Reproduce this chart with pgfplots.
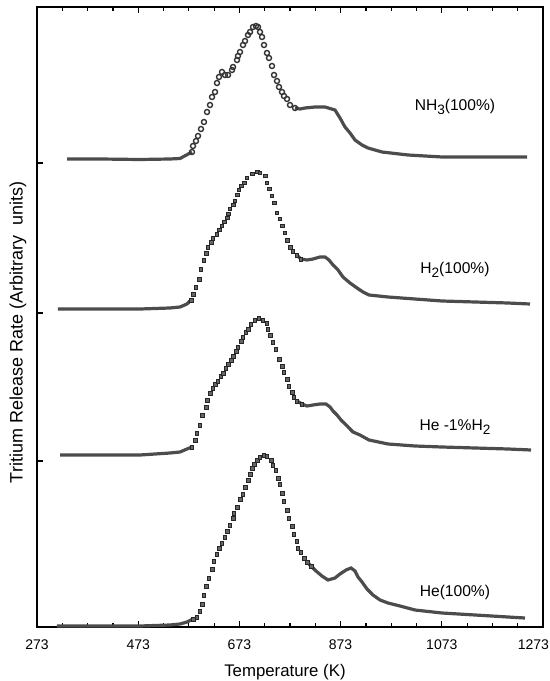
\documentclass[border=0pt]{standalone}
\usepackage{fontspec}
\setmainfont{Liberation Sans}
\usepackage{pgfplots}
\usepackage{pgfplotstable}
\pgfplotsset{compat=1.18}

% temperature (K) vs release rate (arbitrary, curves offset)
\pgfplotstableread{
T R
332.3 468
397.5 468
476.6 467.5
535.8 468
555.6 468.5
579.3 475
581.3 481
587.2 486
591.2 491
597.1 498
603.0 505
609.0 515
614.9 522
618.9 530
624.8 535
628.7 544
632.7 550
638.6 555
644.5 552
650.5 552
658.4 557
660.4 560
668.3 567
670.2 571
674.2 575
680.1 582
684.1 586
690.0 592
694.0 595
699.9 600
705.8 601
709.8 600
713.7 595
717.7 590
721.6 582
727.5 574
731.5 569
737.4 561
741.4 552
747.3 546
751.3 540
757.2 535
761.1 531
767.1 528
773.0 522
782.9 519
792.8 518
802.6 519
822.4 520
842.2 520
861.9 517
871.8 509
881.7 500
891.6 494
901.5 487
915.3 482
927.2 479
954.8 475
1006.2 472
1073.4 470
1138.6 470
1203.8 470
1241.4 470
}\nhthree

\pgfplotstableread{
T R
314.5 318
397.5 318
476.6 318
535.8 319
555.6 320
569.4 323
577.4 327
581.3 333
587.2 340
593.2 348
597.1 358
603.0 367
607.0 374
610.9 380
616.9 385
620.8 389
628.7 393
632.7 397
638.6 401
642.6 405
648.5 409
650.5 413
654.4 418
660.4 422
664.3 426
668.3 432
672.2 437
676.2 441
682.1 444
688.0 449
697.9 453
707.8 455
713.7 454
723.6 451
727.5 444
731.5 438
737.4 431
741.4 424
747.3 414
753.2 408
757.2 401
763.1 394
767.1 387
773.0 380
778.9 376
786.8 372
794.7 368
806.6 367
818.5 368
832.3 370
842.2 370
850.1 367
858.0 362
867.9 357
877.7 350
891.6 344
905.4 339
917.3 335
929.1 332
966.7 330
1020.0 328
1073.4 326
1138.6 325
1203.8 324
1247.3 323
}\htwo

\pgfplotstableread{
T R
318.5 172
397.5 172
476.6 172
535.8 174
555.6 175
569.4 178
579.3 180
585.3 187
589.2 194
595.1 202
599.1 212
607.0 220
609.0 227
614.9 234
620.8 239
624.8 243
630.7 246
636.6 251
640.6 254
646.5 259
650.5 263
656.4 267
660.4 271
666.3 276
670.2 280
676.2 286
680.1 290
686.0 295
690.0 298
695.9 303
703.8 307
711.7 309
719.6 307
727.5 304
729.5 298
733.5 292
739.4 285
745.3 278
751.3 268
757.2 261
761.1 255
767.1 248
771.0 241
777.0 235
780.9 230
786.8 226
796.7 223
806.6 221
818.5 222
832.3 223
844.2 223
852.1 220
858.0 216
865.9 212
873.8 207
885.7 201
897.5 195
911.3 192
929.1 187
966.7 183
1020.0 181
1073.4 180
1138.6 179
1203.8 178
1249.3 177
}\hemix

\pgfplotstableread{
T R
312.5 1
397.5 1
476.6 1
535.8 2
555.6 3
569.4 5
581.3 8
589.2 10
595.1 16
599.1 23
603.0 32
607.0 41
612.9 49
618.9 58
622.8 66
628.7 73
632.7 79
638.6 84
644.5 90
648.5 96
654.4 102
660.4 109
662.3 114
668.3 120
674.2 128
680.1 133
684.1 140
690.0 147
694.0 153
697.9 159
701.9 163
707.8 167
713.7 170
721.6 172
727.5 171
735.5 167
739.4 162
745.3 157
749.3 149
753.2 143
757.2 134
761.1 126
767.1 117
771.0 109
777.0 101
780.9 93
786.8 86
788.8 79
794.7 75
800.7 69
806.6 65
814.5 61
824.4 56
836.2 51
848.1 47
861.9 49
871.8 53
883.7 57
893.6 59
901.5 56
907.4 50
915.3 45
925.2 38
937.0 32
950.9 27
966.7 24
990.4 21
1020.0 17
1073.4 14
1138.6 12
1203.8 10
1237.4 9
}\he

\newcommand{\sub}[1]{\raisebox{-0.45ex}{\fontsize{6.8}{7}\selectfont #1}}

\begin{document}
\begin{tikzpicture}
\pgfplotsset{
  dense/.style={black!70, line width=1.6pt},
  circ/.style={only marks, mark=o, mark size=1.25pt,
    mark options={draw=black!80, line width=0.7pt}},
  sq/.style={only marks, mark=square*, mark size=0.9pt,
    mark options={fill=black!60, draw=black!85, line width=0.3pt}},
}
\begin{axis}[
  name=ax,
  scale only axis, width=253pt, height=310pt,
  xmin=273, xmax=1273, ymin=0, ymax=620,
  xtick={273,473,673,873,1073,1273},
  xticklabels={273,473,673,873,1073,\makebox[6pt][r]{1273}},
  minor x tick num=3,
  ytick={166,314,464}, yticklabels={},
  xtick pos=both, ytick pos=left, tick align=inside,
  major tick length=3pt, minor tick length=2pt,
  axis line style={line width=0.7pt},
  every tick/.style={black, line width=0.6pt},
  tick label style={font=\fontsize{7}{8}\selectfont},
  xticklabel style={yshift=-3pt},
  xlabel={Temperature (K)},
  xlabel style={font=\fontsize{8.4}{10}\selectfont, at={(rel axis cs:0.49,-0.0726)}, anchor=center},
  ylabel={Tritium Release Rate (Arbitrary\ \ units)},
  ylabel style={font=\fontsize{9}{10}\selectfont, at={(rel axis cs:-0.0375,0.475)}, anchor=center},
  clip=false,
]
  \addplot[dense, restrict x to domain=300:581] table {\nhthree};
  \addplot[dense, restrict x to domain=775:1300] table {\nhthree};
  \addplot[circ, restrict x to domain=575:790] table {\nhthree};

  \addplot[dense, restrict x to domain=300:578] table {\htwo};
  \addplot[dense, restrict x to domain=786:1300] table {\htwo};
  \addplot[sq, restrict x to domain=575:800] table {\htwo};

  \addplot[dense, restrict x to domain=300:580] table {\hemix};
  \addplot[dense, restrict x to domain=786:1300] table {\hemix};
  \addplot[sq, restrict x to domain=575:800] table {\hemix};

  \addplot[dense, restrict x to domain=300:582] table {\he};
  \addplot[dense, restrict x to domain=806:1300] table {\he};
  \addplot[sq, restrict x to domain=575:815] table {\he};

  \node[font=\fontsize{7.8}{9}\selectfont] at (axis cs:1099,520) {NH\sub{3}(100\%)};
  \node[font=\fontsize{7.8}{9}\selectfont] at (axis cs:1099,357) {H\sub{2}(100\%)};
  \node[font=\fontsize{7.8}{9}\selectfont] at (axis cs:1099,200) {He -1\%H\sub{2}};
  \node[font=\fontsize{7.8}{9}\selectfont] at (axis cs:1099,35) {He(100\%)};
\end{axis}
\pgfresetboundingbox
\path (ax.south west) ++(-18.5pt,-27pt) coordinate (bl);
\path (ax.north east) ++(3.5pt,3.5pt) coordinate (tr);
\useasboundingbox (bl) rectangle (tr);
\end{tikzpicture}
\end{document}
